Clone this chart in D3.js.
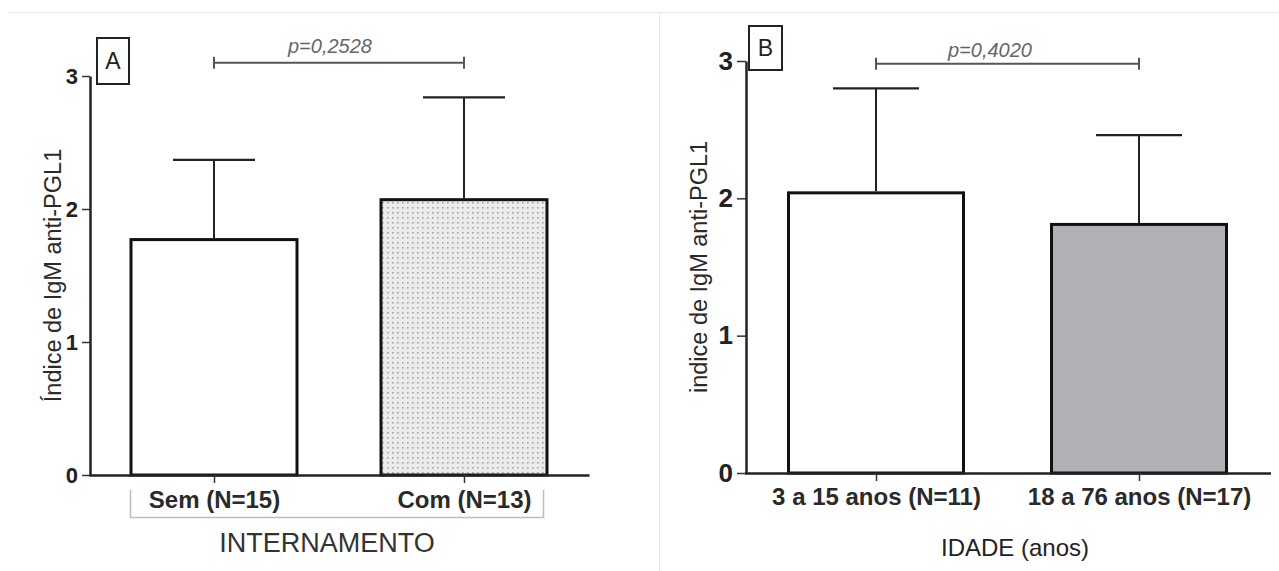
<!DOCTYPE html>
<html>
<head>
<meta charset="utf-8">
<script src="https://cdn.jsdelivr.net/npm/d3@7"></script>
<style>
  body { margin: 0; background: #fff; }
  svg { display: block; font-family: "Liberation Sans", Arial, sans-serif; }
</style>
</head>
<body>
<svg id="chart" width="1279" height="571"></svg>
<script>
// Panel A - internamento
const categoriesA = ["Sem (N=15)", "Com (N=13)"];
const meansA = [1.77, 2.07];
const errorsA = [0.60, 0.77];
const pTextA = "p=0,2528";
const sigLevelA = 3.1;

// Panel B - idade
const categoriesB = ["3 a 15 anos (N=11)", "18 a 76 anos (N=17)"];
const meansB = [2.04, 1.81];
const errorsB = [0.76, 0.65];
const pTextB = "p=0,4020";
const sigLevelB = 2.98;

const yTicks = [0, 1, 2, 3];

const svg = d3.select("#chart");

// light frame lines of the original figure
svg.append("line").attr("x1", 8).attr("x2", 1279).attr("y1", 12.5).attr("y2", 12.5)
    .attr("stroke", "#e6e6e6").attr("stroke-width", 1);
svg.append("line").attr("x1", 659.5).attr("x2", 659.5).attr("y1", 12).attr("y2", 571)
    .attr("stroke", "#e6e6e6").attr("stroke-width", 1);

// dotted fill for "Com" bar
const defs = svg.append("defs");
const pat = defs.append("pattern").attr("id", "dots")
    .attr("width", 5).attr("height", 5).attr("patternUnits", "userSpaceOnUse");
pat.append("rect").attr("width", 5).attr("height", 5).attr("fill", "#ebebeb");
pat.append("rect").attr("x", 2).attr("y", 2).attr("width", 1.6).attr("height", 1.6).attr("fill", "#a5a5a5");

function drawPanel(opt) {
    const y = d3.scaleLinear().domain([0, 3]).range([opt.y0, opt.y3]);
    const x = d3.scalePoint().domain(opt.categories).range(opt.xRange).padding(0.5);
    const g = svg.append("g");

    // bars
    g.selectAll(".bar")
        .data(opt.categories)
        .enter().append("rect")
        .attr("x", d => x(d) - opt.barWidth / 2)
        .attr("y", (d, i) => y(opt.means[i]))
        .attr("width", opt.barWidth)
        .attr("height", (d, i) => y(0) - y(opt.means[i]))
        .attr("fill", (d, i) => opt.fills[i])
        .attr("stroke", "#111")
        .attr("stroke-width", 3);

    // upper error bars
    const err = g.selectAll(".err")
        .data(opt.categories)
        .enter().append("g");
    err.append("line")
        .attr("x1", d => x(d)).attr("x2", d => x(d))
        .attr("y1", (d, i) => y(opt.means[i]) - 1.5)
        .attr("y2", (d, i) => y(opt.means[i] + opt.errors[i]))
        .attr("stroke", "#222").attr("stroke-width", 2);
    err.append("line")
        .attr("x1", d => x(d) - opt.capHalf).attr("x2", d => x(d) + opt.capHalf)
        .attr("y1", (d, i) => y(opt.means[i] + opt.errors[i]))
        .attr("y2", (d, i) => y(opt.means[i] + opt.errors[i]))
        .attr("stroke", "#222").attr("stroke-width", 2.2);

    // axes
    const yAxis = g.append("g")
        .attr("transform", `translate(${opt.axisX},0)`)
        .call(d3.axisLeft(y).tickValues(yTicks).tickFormat(d3.format("d"))
            .tickSize(opt.yTick).tickSizeOuter(0).tickPadding(4));
    yAxis.selectAll("text").attr("font-size", opt.yTickFont).attr("font-weight", "bold")
        .attr("fill", "#222").attr("font-family", "Liberation Sans, Arial, sans-serif");

    const xAxis = g.append("g")
        .attr("transform", `translate(0,${opt.y0})`)
        .call(d3.axisBottom(x).tickSize(8).tickSizeOuter(0).tickPadding(opt.xPad));
    xAxis.selectAll("text").attr("font-size", 24).attr("font-weight", "bold")
        .attr("fill", "#2a2a2a").attr("font-family", "Liberation Sans, Arial, sans-serif");

    [yAxis, xAxis].forEach(a => {
        a.select(".domain").attr("stroke", "#222").attr("stroke-width", 2.5);
        a.selectAll(".tick line").attr("stroke", "#333").attr("stroke-width", 1.5);
    });

    // y title
    g.append("text")
        .attr("transform", `translate(${opt.titleX},${(opt.y0 + opt.y3) / 2}) rotate(-90)`)
        .attr("text-anchor", "middle")
        .attr("font-size", 23.5)
        .attr("fill", "#2a2a2a")
        .text(opt.yTitle);

    // panel letter box
    g.append("rect").attr("x", opt.box[0]).attr("y", opt.box[1])
        .attr("width", opt.box[2]).attr("height", opt.box[3])
        .attr("fill", "#fff").attr("stroke", "#222").attr("stroke-width", 2);
    g.append("text").attr("x", opt.box[0] + opt.box[2] / 2).attr("y", opt.box[1] + opt.box[3] / 2 + 8)
        .attr("text-anchor", "middle").attr("font-size", 23).attr("fill", "#222")
        .text(opt.letter);

    // significance bracket
    const sy = y(opt.sigLevel);
    const sx1 = x(opt.categories[0]), sx2 = x(opt.categories[1]);
    g.append("line").attr("x1", sx1).attr("x2", sx2).attr("y1", sy).attr("y2", sy)
        .attr("stroke", "#555").attr("stroke-width", 2);
    [sx1, sx2].forEach(sx => g.append("line").attr("x1", sx).attr("x2", sx)
        .attr("y1", sy - 6).attr("y2", sy + 6).attr("stroke", "#555").attr("stroke-width", 2));
    g.append("text").attr("x", opt.pX).attr("y", sy - opt.pGap)
        .attr("text-anchor", "middle").attr("font-size", 20).attr("font-style", "italic")
        .attr("fill", "#666").text(opt.pText);

    return { x, y, g };
}

const a = drawPanel({
    categories: categoriesA, means: meansA, errors: errorsA,
    fills: ["#fff", "url(#dots)"],
    y0: 475, y3: 76, xRange: [89, 589], axisX: 90,
    barWidth: 166, capHalf: 41, yTick: 8, yTickFont: 22, xPad: 8,
    titleX: 61, yTitle: "Índice de IgM anti-PGL1",
    box: [97, 38, 32, 46], letter: "A",
    sigLevel: sigLevelA, pText: pTextA, pX: 330, pGap: 10
});

// grey bracket under panel A labels
a.g.append("path")
    .attr("d", "M130.5,490 V517.5 H543.5 V490")
    .attr("fill", "none").attr("stroke", "#bdbdbd").attr("stroke-width", 1.5);
a.g.append("text").attr("x", 327).attr("y", 552)
    .attr("text-anchor", "middle").attr("font-size", 27).attr("fill", "#333")
    .text("INTERNAMENTO");

const b = drawPanel({
    categories: categoriesB, means: meansB, errors: errorsB,
    fills: ["#fff", "#b1b0b4"],
    y0: 473, y3: 61, xRange: [744.5, 1270.5], axisX: 746,
    barWidth: 175, capHalf: 43, yTick: 9, yTickFont: 26, xPad: 7,
    titleX: 707, yTitle: "indice de IgM anti-PGL1",
    box: [749, 26, 33, 44], letter: "B",
    sigLevel: sigLevelB, pText: pTextB, pX: 990, pGap: 7
});

b.g.append("text").attr("x", 1015).attr("y", 556)
    .attr("text-anchor", "middle").attr("font-size", 24).attr("fill", "#222")
    .text("IDADE (anos)");
</script>
</body>
</html>
